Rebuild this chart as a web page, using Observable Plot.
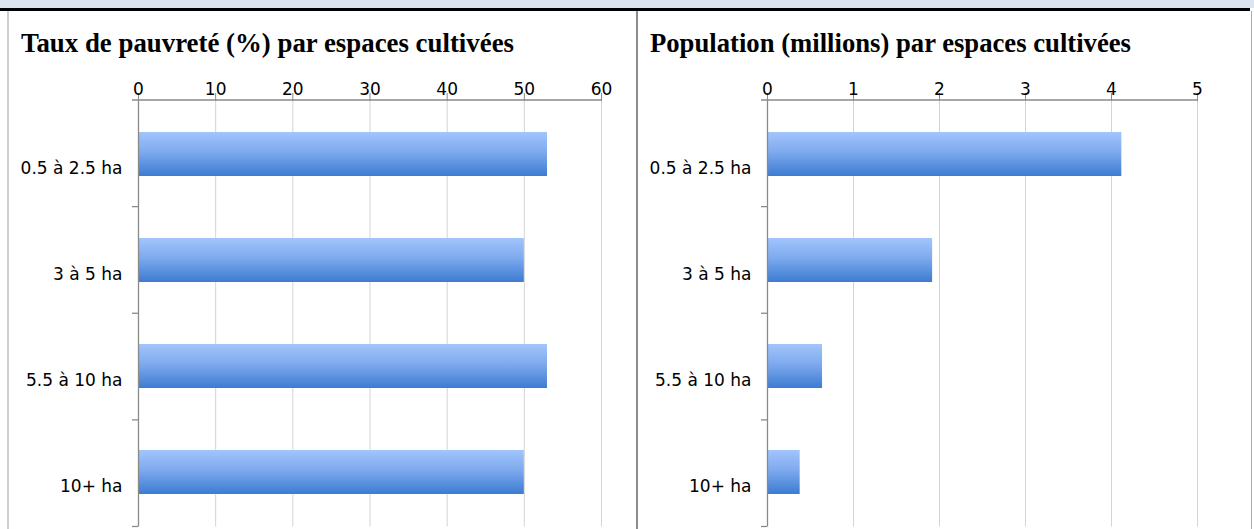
<!DOCTYPE html>
<html>
<head>
<meta charset="utf-8">
<script src="https://cdn.jsdelivr.net/npm/d3@7"></script>
<script src="https://cdn.jsdelivr.net/npm/@observablehq/plot@0.6"></script>
<style>
  html, body { margin: 0; padding: 0; background: #fff; }
  body { width: 1254px; height: 529px; position: relative; overflow: hidden; }
  .abs { position: absolute; }
  .title { font-family: "Liberation Serif", "DejaVu Serif", serif; font-weight: bold; font-size: 28px; line-height: 28px; white-space: nowrap; transform-origin: 0 0; color: #000; }
  .band { left: 0; top: 0; width: 1254px; height: 8px; background: #dbe5f1; }
  .rule { left: 0; top: 8px; width: 1250px; height: 3px; background: #000; }
</style>
</head>
<body>
<div class="abs band"></div>
<div class="abs rule"></div>
<div class="abs" style="left:7px;top:11px;width:2px;height:518px;background:#cfcfcf"></div>
<div class="abs" style="left:636px;top:11px;width:2px;height:518px;background:#8c8c8c"></div>
<div class="abs" style="left:1251px;top:11px;width:1px;height:518px;background:#b0b0b0"></div>
<svg width="0" height="0" style="position:absolute">
  <defs>
    <linearGradient id="barGrad" x1="0" y1="0" x2="0" y2="1">
      <stop offset="0%" stop-color="#a2c5fc"/>
      <stop offset="45%" stop-color="#7eaaee"/>
      <stop offset="100%" stop-color="#3c7cd1"/>
    </linearGradient>
  </defs>
</svg>
<div id="t1" class="abs title" style="left:21px;top:29px">Taux de pauvreté (%) par espaces cultivées</div>
<div id="t2" class="abs title" style="left:650px;top:29px">Population (millions) par espaces cultivées</div>
<div id="c1" class="abs" style="left:8px;top:60px"></div>
<div id="c2" class="abs" style="left:638px;top:60px"></div>
<script>
// ---- data ----
const categories = ["0.5 à 2.5 ha", "3 à 5 ha", "5.5 à 10 ha", "10+ ha"];
const povertyRate = [53, 50, 53, 50];
const population = [4.12, 1.92, 0.64, 0.38];
const povertyTicks = [0, 10, 20, 30, 40, 50, 60];
const populationTicks = [0, 1, 2, 3, 4, 5];

function fitTitle(id, w) {
  const el = document.getElementById(id);
  const actual = el.getBoundingClientRect().width;
  el.style.transform = `scaleX(${w / actual})`;
}
fitTitle("t1", 493);
fitTitle("t2", 481);

const FONT = "'DejaVu Sans', Lato, sans-serif";
const FS = 17;

function makeChart(container, values, ticks, width, marginLeft, marginRight) {
  const data = categories.map((c, i) => ({c, v: values[i]}));
  const height = 469;
  const plot = Plot.plot({
    width, height,
    marginLeft, marginRight, marginTop: 40, marginBottom: 2.5,
    style: {fontFamily: FONT, fontSize: FS + "px", color: "#000", background: "transparent", overflow: "visible"},
    x: {domain: [ticks[0], ticks[ticks.length - 1]], ticks, label: null},
    y: {domain: categories, paddingInner: 0.587, paddingOuter: 0.2935, label: null},
    marks: [
      Plot.gridX(ticks.filter(t => t !== 0), {stroke: "#d4d4d4", strokeOpacity: 1}),
      Plot.axisX({anchor: "top", ticks, tickFormat: d => String(d), tickSize: 8, tickPadding: -2, stroke: "#8a8a8a", fill: "#000", label: null, fontSize: FS}),
      Plot.barX(data, {x: "v", y: "c", fill: "url(#barGrad)", style: "filter: drop-shadow(1.5px 1.5px 1px rgba(0,0,0,0.28))"}),
      Plot.ruleX([0], {stroke: "#8a8a8a", strokeWidth: 1.3}),
      Plot.axisY({anchor: "left", tickSize: 0, tickPadding: 16, dy: 14, fill: "#000", label: null, fontSize: FS})
    ]
  });
  container.appendChild(plot);
  const xs = plot.scale("x"), ys = plot.scale("y");
  const svg = d3.select(plot);
  const top = ys.range[0];
  const bottom = ys.range[1];
  const step = (bottom - top) / categories.length;
  // top axis line
  svg.append("line")
    .attr("x1", xs.range[0] - 6).attr("x2", xs.range[1])
    .attr("y1", top).attr("y2", top)
    .attr("stroke", "#8a8a8a").attr("stroke-width", 1.3);
  // category boundary ticks
  categories.forEach((c, i) => {
    const y = top + step * (i + 1);
    svg.append("line")
      .attr("x1", xs.range[0] - 6).attr("x2", xs.range[0])
      .attr("y1", y).attr("y2", y)
      .attr("stroke", "#8a8a8a").attr("stroke-width", 1.3);
  });
  return plot;
}

makeChart(document.getElementById("c1"), povertyRate, povertyTicks, 629, 130, 36);
makeChart(document.getElementById("c2"), population, populationTicks, 612, 129, 53);
</script>
</body>
</html>
